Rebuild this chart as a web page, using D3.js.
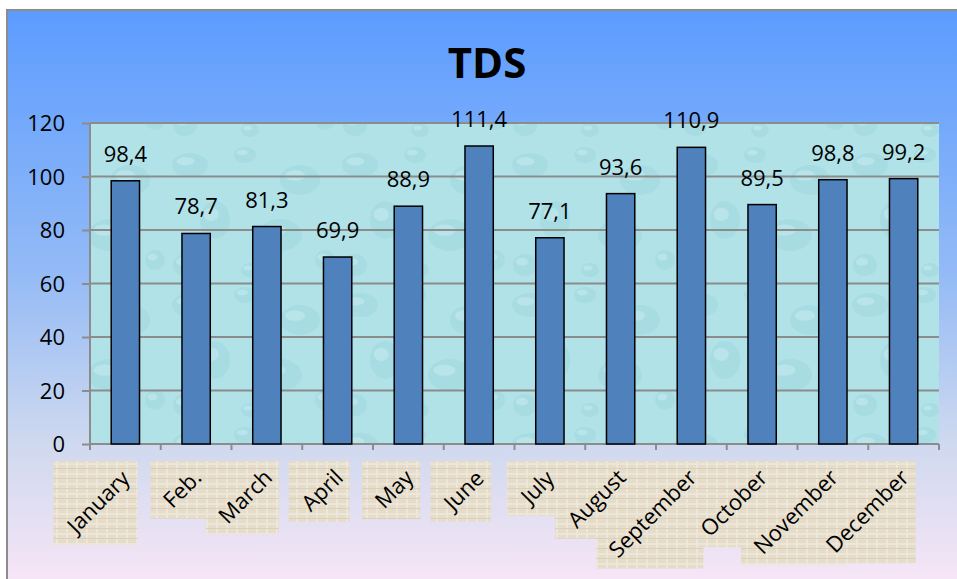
<!DOCTYPE html>
<html>
<head>
<meta charset="utf-8">
<title>TDS</title>
<script src="https://d3js.org/d3.v7.min.js"></script>
<style>
  body { margin: 0; background: #fff; }
  text { font-family: "Open Sans", "Liberation Sans", sans-serif; fill: #000; }
</style>
</head>
<body>
<div id="chart"></div>
<script>
// data
var months = ["January", "Feb.", "March", "April", "May", "June", "July",
              "August", "September", "October", "November", "December"];
var tds = [98.4, 78.7, 81.3, 69.9, 88.9, 111.4, 77.1, 93.6, 110.9, 89.5, 98.8, 99.2];
var yTicks = [0, 20, 40, 60, 80, 100, 120];

var W = 957, H = 579;
var plot = {left: 90, right: 939, top: 123, bottom: 444};

var svg = d3.select("#chart").append("svg")
    .attr("width", W).attr("height", H);

var defs = svg.append("defs");

// outer background gradient
var bg = defs.append("linearGradient").attr("id", "bg")
    .attr("x1", 0).attr("y1", 0).attr("x2", 0).attr("y2", 1);
bg.append("stop").attr("offset", "0%").attr("stop-color", "#5c9cff");
bg.append("stop").attr("offset", "45%").attr("stop-color", "#93baf6");
bg.append("stop").attr("offset", "75%").attr("stop-color", "#cfd9ef");
bg.append("stop").attr("offset", "100%").attr("stop-color", "#f9e6f7");

// water drop texture for the plot area (soft, low contrast)
var water = defs.append("pattern").attr("id", "water")
    .attr("patternUnits", "userSpaceOnUse")
    .attr("width", 170).attr("height", 140);
water.append("rect").attr("width", 170).attr("height", 140).attr("fill", "#b0e2e8");
var drops = [[20, 25, 18, 12], [75, 15, 11, 8], [130, 40, 20, 15], [45, 80, 15, 19],
             [110, 95, 22, 16], [155, 120, 10, 10], [15, 125, 12, 11], [80, 130, 9, 7]];
drops.forEach(function(d) {
  water.append("ellipse").attr("cx", d[0]).attr("cy", d[1]).attr("rx", d[2]).attr("ry", d[3])
      .attr("fill", "#92d0d9").attr("opacity", 0.3);
  water.append("ellipse").attr("cx", d[0] - d[2] * 0.25).attr("cy", d[1] - d[3] * 0.3)
      .attr("rx", d[2] * 0.5).attr("ry", d[3] * 0.35)
      .attr("fill", "#d6f2f5").attr("opacity", 0.35);
});

// beige burlap texture for the month labels
var cloth = defs.append("pattern").attr("id", "cloth")
    .attr("patternUnits", "userSpaceOnUse")
    .attr("width", 10).attr("height", 10);
cloth.append("rect").attr("width", 10).attr("height", 10).attr("fill", "#e5dcc9");
cloth.append("rect").attr("x", 0).attr("y", 3).attr("width", 10).attr("height", 2).attr("fill", "#ede6d8");
cloth.append("rect").attr("x", 6).attr("y", 0).attr("width", 2).attr("height", 10).attr("fill", "#ede7da");
cloth.append("rect").attr("x", 0).attr("y", 8).attr("width", 10).attr("height", 1).attr("fill", "#dbd0ba");

// chart frame
svg.append("rect")
    .attr("x", 7).attr("y", 10).attr("width", W).attr("height", H)
    .attr("fill", "url(#bg)").attr("stroke", "#8c8c8c").attr("stroke-width", 2);

// title
svg.append("text")
    .attr("x", 487).attr("y", 78)
    .attr("text-anchor", "middle")
    .style("font-size", "42px").style("font-weight", "bold")
    .text("TDS");

// scales
var x = d3.scaleBand().domain(months).range([plot.left, plot.right]).paddingInner(0.6).paddingOuter(0.3);
var xb = d3.scaleBand().domain(months).range([plot.left, plot.right]);
var y = d3.scaleLinear().domain([0, 120]).range([plot.bottom, plot.top]);

// plot background
svg.append("rect")
    .attr("x", plot.left).attr("y", plot.top)
    .attr("width", plot.right - plot.left).attr("height", plot.bottom - plot.top)
    .attr("fill", "url(#water)");

// gridlines
svg.append("g").selectAll("line").data(yTicks).enter().append("line")
    .attr("x1", plot.left).attr("x2", plot.right)
    .attr("y1", function(d) { return y(d); }).attr("y2", function(d) { return y(d); })
    .attr("stroke", "#8c8c8c").attr("stroke-width", 2);

// y axis
var yAxis = svg.append("g")
    .attr("transform", "translate(" + plot.left + ",0)")
    .call(d3.axisLeft(y).tickValues(yTicks).tickSize(8).tickPadding(17));
yAxis.selectAll("line, path").attr("stroke", "#8c8c8c").attr("stroke-width", 2);
yAxis.select("path").attr("d", "M0," + plot.top + "V" + (plot.bottom + 5));
yAxis.selectAll("text").style("font-size", "22px").attr("font-family", null).attr("dy", "0.36em");

// x axis ticks at category boundaries
var bounds = months.map(function(m) { return xb(m); }).concat([plot.right]);
svg.append("g").selectAll("line").data(bounds).enter().append("line")
    .attr("x1", function(d) { return d; }).attr("x2", function(d) { return d; })
    .attr("y1", plot.bottom).attr("y2", plot.bottom + 6)
    .attr("stroke", "#8c8c8c").attr("stroke-width", 2);

// bars
svg.append("g").selectAll("rect").data(tds).enter().append("rect")
    .attr("x", function(d, i) { return x(months[i]); })
    .attr("width", x.bandwidth())
    .attr("y", function(d) { return y(d); })
    .attr("height", function(d) { return y(0) - y(d); })
    .attr("fill", "#4f81bd").attr("stroke", "#000").attr("stroke-width", 1.5);

// value labels
svg.append("g").selectAll("text").data(tds).enter().append("text")
    .attr("x", function(d, i) { return x(months[i]) + x.bandwidth() / 2; })
    .attr("y", function(d) { return y(d) - 19; })
    .attr("text-anchor", "middle")
    .style("font-size", "22px")
    .text(function(d) { return d.toFixed(1).replace(".", ","); });

// rotated month labels on textured boxes: boxes first, texts on top
var boxLayer = svg.append("g");
var textLayer = svg.append("g");
months.forEach(function(m) {
  var cx = xb(m) + xb.bandwidth() / 2;
  var t = textLayer.append("text")
      .style("font-size", "22px")
      .attr("text-anchor", "middle")
      .attr("dominant-baseline", "central")
      .text(m);
  var bb = t.node().getBBox();
  var side = (bb.width + bb.height) / Math.SQRT2 + 6;
  var bx = cx + 12 - side, by = 461;
  boxLayer.append("rect")
      .attr("x", bx).attr("y", by).attr("width", side).attr("height", side)
      .attr("fill", "url(#cloth)");
  t.attr("transform", "translate(" + (bx + side / 2 + 2) + "," + (by + side / 2 - 2) + ") rotate(-45)");
});
</script>
</body>
</html>
